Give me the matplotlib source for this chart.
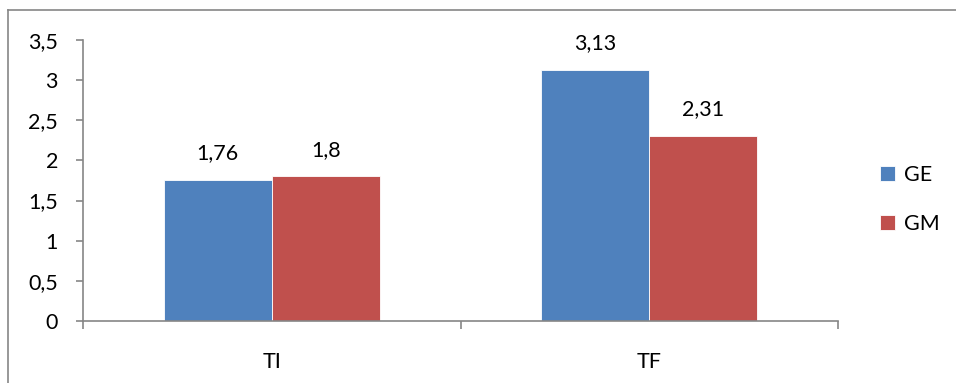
import matplotlib.pyplot as plt
import numpy as np
from matplotlib.lines import Line2D

plt.rcParams["font.family"] = ["Lato", "DejaVu Sans"]

categories = ["TI", "TF"]
ge_values = [1.76, 3.13]
gm_values = [1.8, 2.31]
series_names = ["GE", "GM"]
y_ticks = [0, 0.5, 1, 1.5, 2, 2.5, 3, 3.5]


def comma(v):
    return ("%g" % v).replace(".", ",")


fig = plt.figure(figsize=(9.56, 3.83), dpi=100)
ax = fig.add_axes([0.0868, 0.1619, 0.7898, 0.7337])

x = np.arange(len(categories))
width = 1 / 3.5
colors = ["#4F81BD", "#C0504D"]
fs = 15.5
for i, (vals, name) in enumerate(zip([ge_values, gm_values], series_names)):
    bars = ax.bar(x + (i - 0.5) * width, vals, width, color=colors[i],
                  edgecolor="white", linewidth=0.6, label=name)
    for b, v in zip(bars, vals):
        ax.annotate(comma(v), (b.get_x() + b.get_width() / 2, v),
                    xytext=(0, 12), textcoords="offset points",
                    ha="center", va="bottom", fontsize=fs)

ax.set_xlim(-0.5, len(categories) - 0.5)
ax.set_ylim(0, 3.5)
ax.set_yticks(y_ticks)
ax.set_yticklabels([comma(t) for t in y_ticks])
ax.set_xticks(x)
ax.set_xticklabels(categories)
ax.set_xticks(np.arange(len(categories) + 1) - 0.5, minor=True)

gray = "#868686"
for s in ["top", "right"]:
    ax.spines[s].set_visible(False)
for s in ["left", "bottom"]:
    ax.spines[s].set_color(gray)
    ax.spines[s].set_linewidth(1.2)

ax.tick_params(axis="y", length=5, width=1.2, color=gray, pad=13, labelsize=fs)
ax.tick_params(axis="x", which="major", length=0, pad=22, labelsize=fs)
ax.tick_params(axis="x", which="minor", length=6, width=1.2, color=gray)

fig.legend(loc="center left", bbox_to_anchor=(0.92, 0.48), frameon=False,
           fontsize=fs, handlelength=0.7, handleheight=0.7, handletextpad=0.45,
           labelspacing=1.35, borderpad=0, borderaxespad=0)

# outer chart frame
fig.add_artist(Line2D([8 / 956, 1], [1 - 10 / 383] * 2, color=gray, lw=1.2,
                      transform=fig.transFigure))
fig.add_artist(Line2D([8 / 956] * 2, [0, 1 - 10 / 383], color=gray, lw=1.2,
                      transform=fig.transFigure))

fig.savefig("out.png", dpi=100)
